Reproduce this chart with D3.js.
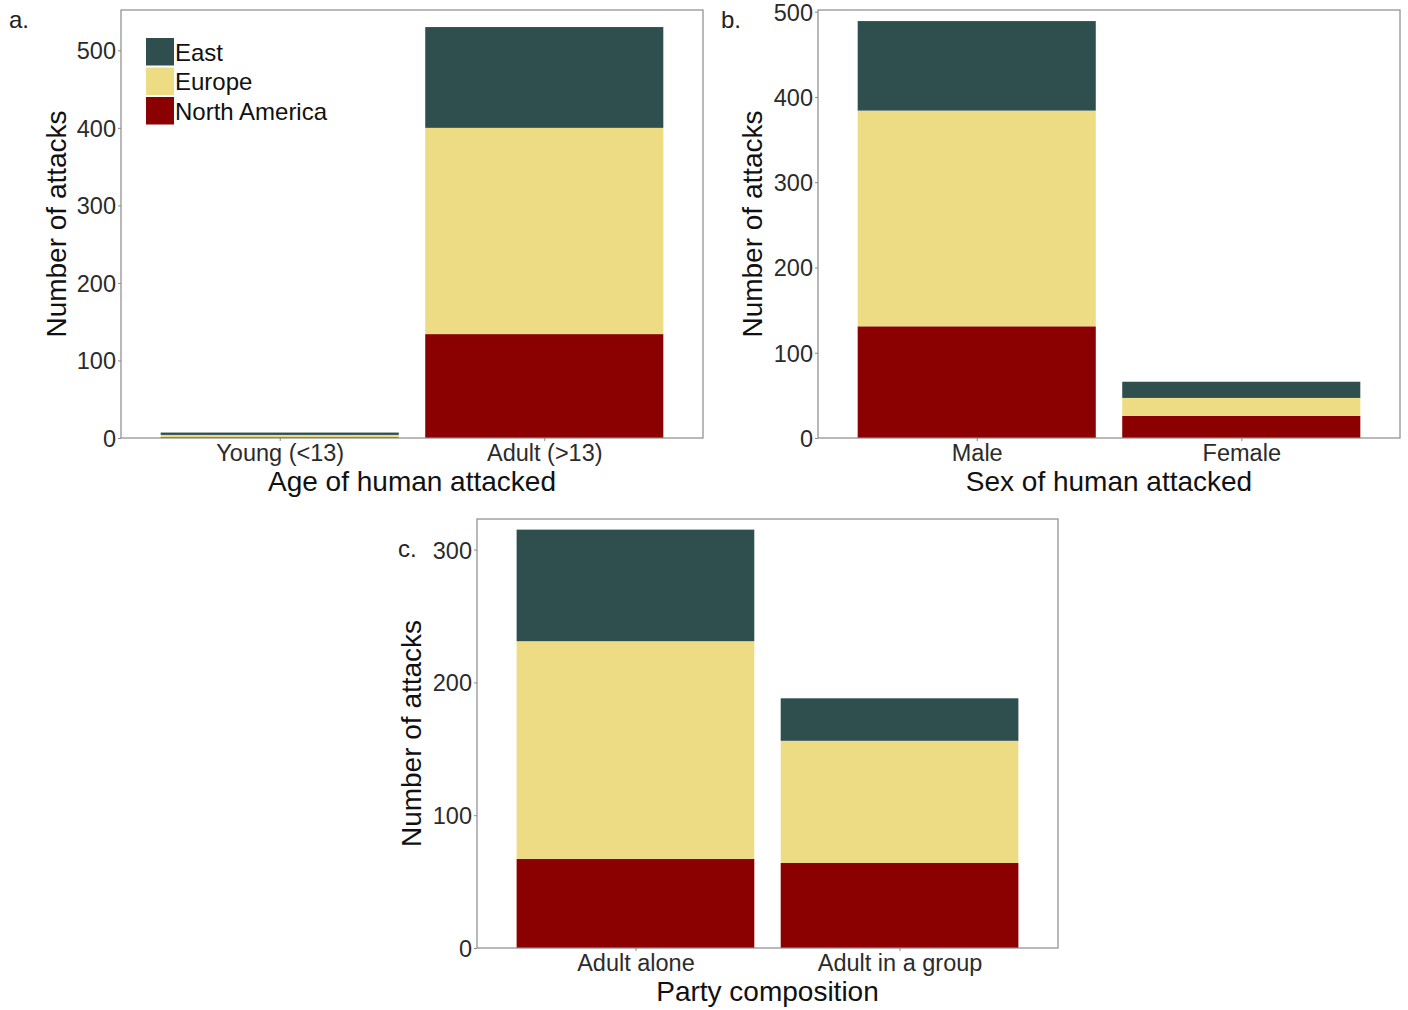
<!DOCTYPE html>
<html><head><meta charset="utf-8">
<script src="https://cdn.jsdelivr.net/npm/d3@7"></script>
<style>body{margin:0;background:#fff;} svg{display:block;font-family:"Liberation Sans",Arial,sans-serif;}</style>
</head><body>
<svg id="chart" width="1408" height="1010"></svg>
<script>
const regions = ["North America", "Europe", "East"];
const legendOrder = ["East", "Europe", "North America"];
const colors = ["#8B0000", "#EDDC84", "#2F4F4F"];

const ageCategories = ["Young (<13)", "Adult (>13)"];
const ageNorthAmerica = [1, 134];
const ageEurope = [3, 266];
const ageEast = [3, 130];

const sexCategories = ["Male", "Female"];
const sexNorthAmerica = [131, 26];
const sexEurope = [253, 21];
const sexEast = [105, 19];

const partyCategories = ["Adult alone", "Adult in a group"];
const partyNorthAmerica = [67, 64];
const partyEurope = [164, 92];
const partyEast = [84, 32];

const ageTicks = [0, 100, 200, 300, 400, 500];
const sexTicks = [0, 100, 200, 300, 400, 500];
const partyTicks = [0, 100, 200, 300];

const svg = d3.select("#chart");
const color = d3.scaleOrdinal().domain(regions).range(colors);

function panel(cfg) {
  const g = svg.append("g");
  // ggplot-like discrete axis: bar width 0.9 of a unit, 0.6 unit expansion each side
  const unit = (cfg.x1 - cfg.x0) / (cfg.categories.length - 1 + 1.2);
  const xc = d3.scalePoint().domain(cfg.categories).range([cfg.x0 + 0.6 * unit, cfg.x1 - 0.6 * unit]);
  const bw = 0.9 * unit;
  const y = d3.scaleLinear().domain([0, cfg.ymax]).range([cfg.y1, cfg.y0]);

  const rows = cfg.categories.map((c, i) => ({cat: c, "North America": cfg.na[i], "Europe": cfg.eu[i], "East": cfg.ea[i]}));
  const stacked = d3.stack().keys(regions)(rows);

  g.selectAll("g.layer").data(stacked).join("g").attr("fill", d => color(d.key))
    .selectAll("rect").data(d => d).join("rect")
    .attr("x", d => xc(d.data.cat) - bw / 2)
    .attr("width", bw)
    .attr("y", d => y(d[1]))
    .attr("height", d => Math.max(0, y(d[0]) - y(d[1])));

  g.append("rect").attr("x", cfg.x0).attr("y", cfg.y0).attr("width", cfg.x1 - cfg.x0).attr("height", cfg.y1 - cfg.y0)
    .attr("fill", "none").attr("stroke", "#8a8a8a").attr("stroke-width", 1.2);

  const yAxis = d3.axisLeft(y).tickValues(cfg.ticks).tickSize(3).tickPadding(2);
  const ya = g.append("g").attr("transform", `translate(${cfg.x0},0)`).call(yAxis);
  ya.select(".domain").remove();
  ya.selectAll("line").attr("stroke", "#8a8a8a");
  ya.selectAll("text").attr("font-size", 23.5).attr("fill", "#2b2b2b").attr("dy", "0.36em");

  const xAxis = d3.axisBottom(xc).tickSize(3).tickPadding(3);
  const xa = g.append("g").attr("transform", `translate(0,${cfg.y1})`).call(xAxis);
  xa.select(".domain").remove();
  xa.selectAll("line").attr("stroke", "#8a8a8a");
  xa.selectAll("text").attr("font-size", 23.5).attr("fill", "#2b2b2b");

  g.append("text").attr("x", (cfg.x0 + cfg.x1) / 2).attr("y", cfg.y1 + 53).attr("text-anchor", "middle")
    .attr("font-size", 28).attr("fill", "#111").text(cfg.xTitle);
  g.append("text").attr("transform", `translate(${cfg.ytx},${(cfg.y0 + cfg.y1) / 2}) rotate(-90)`)
    .attr("text-anchor", "middle").attr("font-size", 28).attr("fill", "#111").text("Number of attacks");
  g.append("text").attr("x", cfg.lx).attr("y", cfg.ly).attr("font-size", 24).attr("fill", "#222").text(cfg.label);
}

panel({categories: ageCategories, na: ageNorthAmerica, eu: ageEurope, ea: ageEast, ticks: ageTicks,
  x0: 121, x1: 703, y0: 10, y1: 438, ymax: 552, xTitle: "Age of human attacked", ytx: 66, lx: 9, ly: 28, label: "a."});
panel({categories: sexCategories, na: sexNorthAmerica, eu: sexEurope, ea: sexEast, ticks: sexTicks,
  x0: 818, x1: 1400, y0: 10, y1: 438, ymax: 502, xTitle: "Sex of human attacked", ytx: 762, lx: 721, ly: 28, label: "b."});
panel({categories: partyCategories, na: partyNorthAmerica, eu: partyEurope, ea: partyEast, ticks: partyTicks,
  x0: 477, x1: 1058, y0: 519, y1: 948, ymax: 323, xTitle: "Party composition", ytx: 421, lx: 398, ly: 557, label: "c."});

const leg = svg.append("g").attr("transform", "translate(146,38)");
legendOrder.forEach((k, i) => {
  leg.append("rect").attr("x", 0).attr("y", i * 29.5).attr("width", 28).attr("height", 27.5).attr("fill", color(k));
  leg.append("text").attr("x", 29).attr("y", i * 29.5 + 14).attr("dy", "0.36em").attr("font-size", 24).attr("fill", "#111").text(k);
});
</script>
</body></html>
